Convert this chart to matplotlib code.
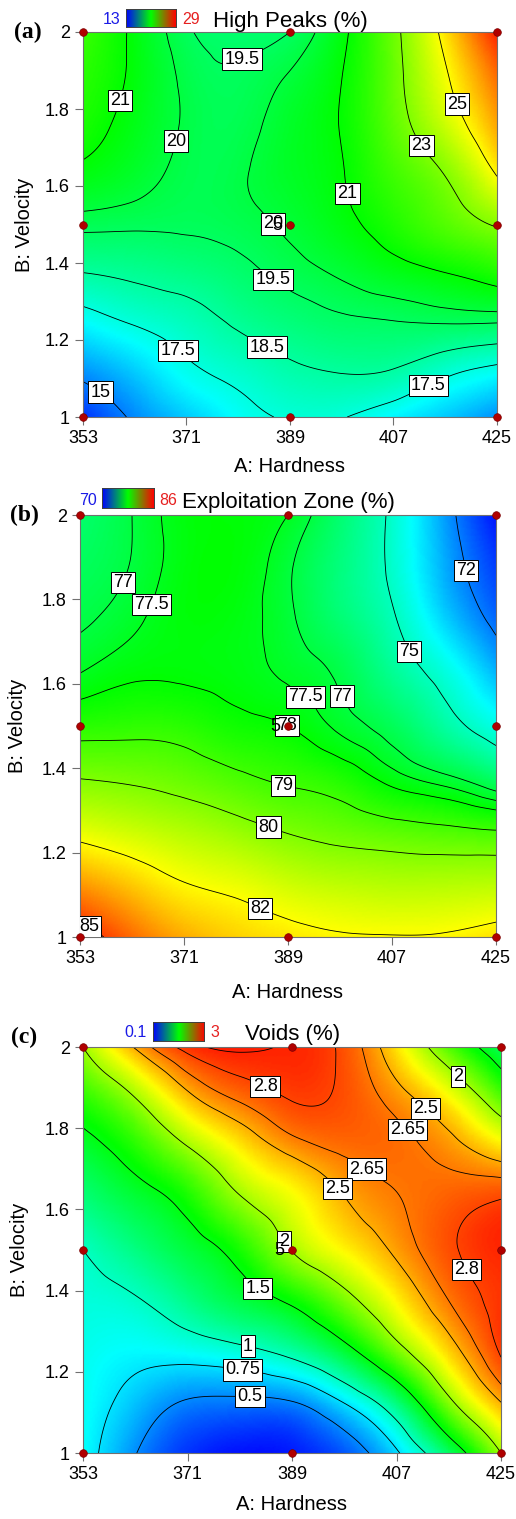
"""
Response-surface contour maps for high peaks, exploitation zone and voids
as a function of hardness (A) and velocity (B).
"""

import numpy as np
import matplotlib
matplotlib.use('Agg')
import matplotlib.pyplot as plt
import matplotlib.tri as mtri
from matplotlib.colors import LinearSegmentedColormap

plt.rcParams['font.family'] = ['Liberation Sans', 'DejaVu Sans']

# =============================================================================
# Data
# =============================================================================

hardness = [353, 362, 371, 380, 389, 398, 407, 416, 425]
velocity = [1.0, 1.125, 1.25, 1.375, 1.5, 1.625, 1.75, 1.875, 2.0]

# rows follow velocity (1 -> 2), columns follow hardness (353 -> 425)
high_peaks = [
    [13.8, 15.2, 16.2, 17.1, 17.6, 17.55, 16.9, 16.2, 15.3],
    [15.44, 16.3, 17.3, 17.86, 18.35, 18.59, 18.5, 17.83, 17.3],
    [17.04, 17.63, 18.09, 18.66, 19.1, 19.39, 19.5, 19.6, 19.6],
    [18.5, 18.7, 18.94, 19.28, 19.71, 20.12, 20.6, 21.0, 21.48],
    [19.69, 19.62, 19.6, 19.75, 20.15, 20.74, 21.47, 22.29, 23.1],
    [20.73, 20.3, 19.8, 19.9, 20.41, 20.95, 21.95, 23.0, 25.0],
    [21.35, 20.63, 19.9, 19.75, 20.38, 21.05, 22.42, 24.1, 26.3],
    [21.6, 20.81, 19.85, 19.6, 20.1, 21.0, 22.6, 24.8, 27.2],
    [21.9, 20.8, 19.6, 19.3, 19.5, 20.78, 22.67, 25.4, 28.5],
]
exploitation_zone = [
    [85.6, 84.3, 83.3, 82.7, 82.35, 82.1, 82.05, 82.1, 82.45],
    [83.6, 82.8, 82.05, 81.7, 81.24, 80.96, 80.82, 80.83, 80.9],
    [81.63, 81.21, 80.81, 80.4, 79.95, 79.66, 79.41, 79.23, 79.06],
    [80.0, 79.85, 79.59, 79.19, 78.86, 78.51, 77.77, 77.2, 76.37],
    [78.62, 78.72, 78.63, 78.25, 78.0, 77.36, 76.63, 75.5, 74.39],
    [77.5, 77.88, 77.9, 77.75, 77.4, 76.85, 75.72, 74.56, 72.92],
    [76.9, 77.36, 77.85, 77.75, 77.14, 76.22, 75.14, 73.4, 71.7],
    [76.58, 77.05, 77.8, 77.9, 77.1, 76.04, 74.8, 72.8, 71.0],
    [76.3, 77.0, 77.8, 77.9, 77.5, 76.25, 74.8, 72.56, 70.3],
]
voids = [
    [0.85, 0.51, 0.25, 0.15, 0.18, 0.35, 0.72, 1.27, 2.0],
    [0.86, 0.66, 0.48, 0.45, 0.49, 0.76, 1.21, 1.93, 2.5],
    [0.88, 0.82, 0.85, 0.93, 1.08, 1.39, 1.88, 2.39, 2.82],
    [0.93, 0.98, 1.16, 1.35, 1.55, 1.89, 2.29, 2.65, 2.85],
    [1.0, 1.18, 1.37, 1.61, 2.01, 2.29, 2.54, 2.77, 2.89],
    [1.2, 1.38, 1.6, 1.97, 2.23, 2.49, 2.64, 2.73, 2.8],
    [1.4, 1.64, 1.98, 2.31, 2.56, 2.68, 2.69, 2.58, 2.36],
    [1.67, 2.0, 2.44, 2.68, 2.81, 2.77, 2.58, 2.28, 1.79],
    [2.0, 2.52, 2.85, 2.92, 2.89, 2.76, 2.34, 1.78, 1.3],
]

high_peaks_levels = [15, 17.5, 18.5, 19.5, 20, 21, 23, 25]
exploitation_levels = [72, 75, 77, 77.5, 78, 79, 80, 82, 85]
voids_levels = [0.5, 0.75, 1, 1.5, 2, 2.5, 2.65, 2.8, 2.9]

high_peaks_range = (13, 29)
exploitation_range = (70, 86)
voids_range = (0.1, 3)

# design runs (factorial + axial + center)
design_hardness = [353, 353, 353, 389, 389, 389, 425, 425, 425]
design_velocity = [1.0, 1.5, 2.0, 1.0, 1.5, 2.0, 1.0, 1.5, 2.0]
center_runs = 5

x_ticks = [353, 371, 389, 407, 425]
y_ticks = [1, 1.2, 1.4, 1.6, 1.8, 2]
y_tick_labels = ['1', '1.2', '1.4', '1.6', '1.8', '2']

# =============================================================================
# Layout (pixels on a 516 x 1519 canvas)
# =============================================================================

W, H = 516, 1519

PANELS = [
    dict(letter='(a)', title='High Peaks (%)', z=high_peaks, levels=high_peaks_levels,
         vrange=high_peaks_range, range_text=('13', '29'),
         box=(83, 32, 497, 417), letter_xy=(28, 32), ylabel_x=25, xlabel_y=467,
         legend=dict(bar=(126, 9, 176, 27), low_x=121, high_x=182, title_x=213, base=27),
         labels=[(380.1, 1.948), (358.6, 1.826), (369.9, 1.714), (418.0, 1.813),
                 (412.0, 1.706), (400.0, 1.584), (386.4, 1.506), (386.0, 1.356),
                 (369.3, 1.169), (384.7, 1.174), (412.5, 1.101), (356.7, 1.078)]),
    dict(letter='(b)', title='Exploitation Zone (%)', z=exploitation_zone,
         levels=exploitation_levels, vrange=exploitation_range, range_text=('70', '86'),
         box=(80, 515, 496, 937), letter_xy=(24, 515), ylabel_x=17.5, xlabel_y=992,
         legend=dict(bar=(102, 488, 154, 508), low_x=97, high_x=159, title_x=182, base=508),
         labels=[(360.3, 1.841), (366.5, 1.782), (420.2, 1.870), (410.5, 1.680),
                 (391.6, 1.562), (397.7, 1.566), (388.8, 1.50), (388.1, 1.355),
                 (385.5, 1.254), (384.5, 1.078), (355.6, 1.047)]),
    dict(letter='(c)', title='Voids (%)', z=voids, levels=voids_levels,
         vrange=voids_range, range_text=('0.1', '3'),
         box=(83, 1047, 501, 1453), letter_xy=(24, 1037), ylabel_x=19.5, xlabel_y=1505,
         legend=dict(bar=(153, 1022, 204, 1041), low_x=147, high_x=210, title_x=245, base=1040),
         labels=[(384.3, 1.901), (418.3, 1.938), (412.4, 1.855), (408.6, 1.793),
                 (402.4, 1.709), (396.9, 1.653), (388.7, 1.532), (419.1, 1.453),
                 (383.5, 1.414), (381.6, 1.278), (380.6, 1.214), (381.8, 1.145)]),
]

SURFACE_CMAP = LinearSegmentedColormap.from_list(
    'rsm', ['#0000FF', '#00FFFF', '#00FF00', '#FFFF00', '#FF0000'])
LEGEND_CMAP = LinearSegmentedColormap.from_list('rsm_key', ['#0000FF', '#00FF00', '#FF0000'])


def fig_rect(x0, y0, x1, y1):
    return [x0 / W, 1 - y1 / H, (x1 - x0) / W, (y1 - y0) / H]


def fig_xy(x, y):
    return x / W, 1 - y / H


# =============================================================================
# Surface
# =============================================================================

def smooth_surface(z):
    """Refine the gridded response with matplotlib's cubic triangle interpolator."""
    a = np.asarray(hardness, float)
    b = np.asarray(velocity, float)
    nx, ny = len(a), len(b)
    u, v = np.meshgrid((a - a[0]) / (a[-1] - a[0]), (b - b[0]) / (b[-1] - b[0]))
    tris = []
    for j in range(ny - 1):
        for i in range(nx - 1):
            k = j * nx + i
            tris.append([k, k + 1, k + nx + 1])
            tris.append([k, k + nx + 1, k + nx])
    tri = mtri.Triangulation(u.ravel(), v.ravel(), np.array(tris))
    fine, zf = mtri.UniformTriRefiner(tri).refine_field(np.asarray(z, float).ravel(), subdiv=5)
    x = a[0] + fine.x * (a[-1] - a[0])
    y = b[0] + fine.y * (b[-1] - b[0])
    return mtri.Triangulation(x, y, fine.triangles), zf


def draw_panel(fig, p):
    x0, y0, x1, y1 = p['box']
    ax = fig.add_axes(fig_rect(*p['box']))
    vmin, vmax = p['vrange']

    tri, zf = smooth_surface(p['z'])
    ax.tripcolor(tri, zf, shading='gouraud', cmap=SURFACE_CMAP, vmin=vmin, vmax=vmax,
                 rasterized=True)
    cs = ax.tricontour(tri, zf, levels=p['levels'], colors='black', linewidths=0.6)
    texts = ax.clabel(cs, inline=False, fontsize=13, fmt=lambda v: f'{v:g}',
                      manual=p['labels'])
    for t in texts:
        t.set_rotation(0)
        t.set_zorder(5)
        t.set_bbox(dict(boxstyle='square,pad=0.12', facecolor='white',
                        edgecolor='black', linewidth=0.7))

    ax.plot(design_hardness, design_velocity, 'o', color='#B00000', mec='#7A0000',
            mew=0.5, ms=5.5, clip_on=False, zorder=6)
    ax.annotate(str(center_runs), xy=(389, 1.5), xytext=(-5.5, -0.5),
                textcoords='offset points', ha='right', va='center',
                fontsize=13, zorder=7)

    ax.set_xlim(hardness[0], hardness[-1])
    ax.set_ylim(velocity[0], velocity[-1])
    ax.set_xticks(x_ticks)
    ax.set_yticks(y_ticks)
    ax.set_yticklabels(y_tick_labels)
    ax.tick_params(direction='out', length=6, width=0.8, color='#707070',
                   labelsize=13, pad=3.5)
    for s in ax.spines.values():
        s.set_color('#707070')
        s.set_linewidth(0.8)

    w_px, h_px = x1 - x0, y1 - y0
    ax.set_xlabel('A: Hardness', fontsize=14.5, va='center')
    ax.xaxis.set_label_coords(0.5, -(p['xlabel_y'] - y1) / h_px)
    ax.set_ylabel('B: Velocity', fontsize=14.5, va='center')
    ax.yaxis.set_label_coords(-(x0 - p['ylabel_x']) / w_px, 0.5)

    # colour key above the plot
    lg = p['legend']
    bx0, by0, bx1, by1 = lg['bar']
    kax = fig.add_axes(fig_rect(bx0, by0, bx1, by1))
    kax.imshow(np.linspace(0, 1, 256)[None, :], aspect='auto', cmap=LEGEND_CMAP)
    kax.set_xticks([])
    kax.set_yticks([])
    for s in kax.spines.values():
        s.set_color('#404040')
        s.set_linewidth(0.7)
    low, high = p['range_text']
    fig.text(*fig_xy(lg['low_x'], lg['base'] - 3), low, color='#1A1AE6',
             fontsize=11.5, ha='right', va='baseline')
    fig.text(*fig_xy(lg['high_x'], lg['base'] - 3), high, color='#E62020',
             fontsize=11.5, ha='left', va='baseline')
    fig.text(*fig_xy(lg['title_x'], lg['base']), p['title'], fontsize=16,
             ha='left', va='baseline')

    fig.text(*fig_xy(*p['letter_xy']), p['letter'], fontsize=17, fontweight='bold',
             family='Liberation Serif', ha='center', va='center')


def main():
    fig = plt.figure(figsize=(W / 100, H / 100), dpi=100)
    fig.patch.set_facecolor('white')
    for p in PANELS:
        draw_panel(fig, p)
    fig.savefig('out.png', dpi=100, facecolor='white')
    plt.close(fig)


if __name__ == '__main__':
    main()
